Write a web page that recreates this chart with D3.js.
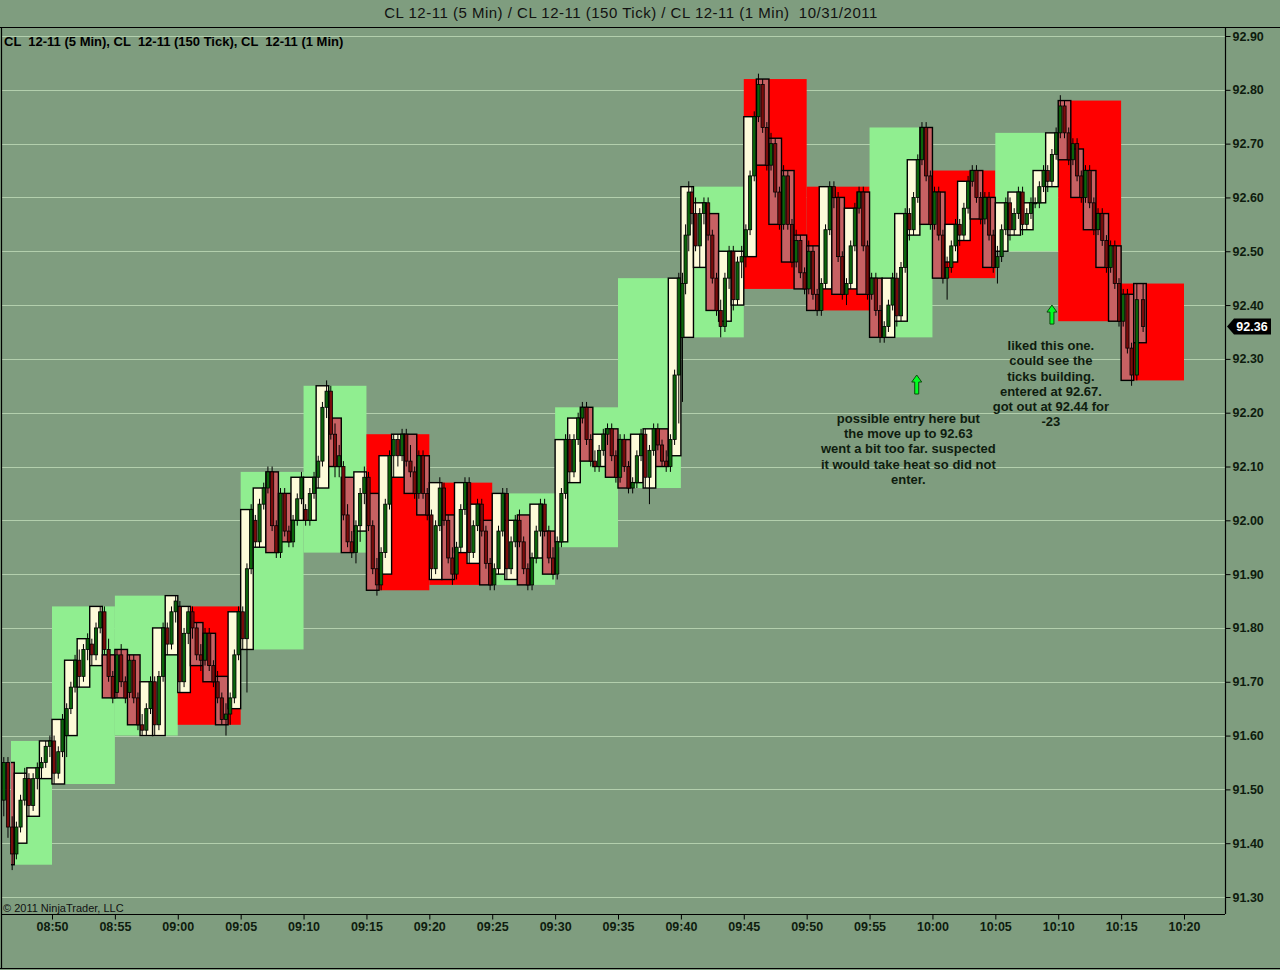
<!DOCTYPE html>
<html>
<head>
<meta charset="utf-8">
<style>
  html, body { margin: 0; padding: 0; background: #7f9d7f; }
  svg { display: block; }
  text { font-family: "Liberation Sans", Arial, sans-serif; }
</style>
<script src="https://cdn.jsdelivr.net/npm/d3@7"></script>
</head>
<body>
<svg id="chart"></svg>
<script>
// ---- DATA ----
const chartTitle = "CL 12-11 (5 Min) / CL 12-11 (150 Tick) / CL 12-11 (1 Min)  10/31/2011";
const panelLabel = "CL  12-11 (5 Min), CL  12-11 (150 Tick), CL  12-11 (1 Min)";
const copyright = "\u00a9 2011 NinjaTrader, LLC";

const priceTicks = [91.30, 91.40, 91.50, 91.60, 91.70, 91.80, 91.90, 92.00, 92.10,
  92.20, 92.30, 92.40, 92.50, 92.60, 92.70, 92.80, 92.90];
const timeTicks = ["08:50", "08:55", "09:00", "09:05", "09:10", "09:15", "09:20",
  "09:25", "09:30", "09:35", "09:40", "09:45", "09:50", "09:55", "10:00", "10:05",
  "10:10", "10:15", "10:20"];

const lastPrice = 92.36;
const firstData = "08:46:45"; // where the loaded 1 min / 5 min data begins

// 5 min bars (start time, open, close)
const fiveMinStart = "08:45";
const fiveMinOpen = [91.36, 91.51, 91.60, 91.84, 91.76, 91.94, 92.16, 92.07, 91.88, 91.95,
  92.06, 92.34, 92.82, 92.62, 92.34, 92.65, 92.50, 92.78, 92.44];
const fiveMinClose = [91.59, 91.84, 91.86, 91.62, 92.09, 92.25, 91.87, 91.88, 92.05, 92.21,
  92.45, 92.62, 92.43, 92.39, 92.73, 92.45, 92.72, 92.37, 92.26];

// 1 min bars from 08:46
const oneMinStart = "08:46";
const oneMinOpen = [
  91.55, 91.40, 91.45, 91.52, 91.51, 91.60, 91.69, 91.73, 91.75, 91.76, 91.75, 91.60, 91.60, 91.75,
  91.68, 91.81, 91.79, 91.71, 91.65, 91.76, 91.95, 92.09, 92.05, 92.00,
  92.00, 92.06, 92.19, 92.08, 91.98, 92.05, 91.90, 92.08, 92.16, 92.12,
  91.89, 92.01, 91.94, 91.92, 92.00, 91.90, 91.89, 92.01, 91.93, 91.98,
  91.96, 92.07, 92.21, 92.10, 92.17, 92.15, 92.07, 92.06, 92.17, 92.12,
  92.34, 92.47, 92.57, 92.37, 92.40, 92.49, 92.82, 92.71, 92.65, 92.53,
  92.51, 92.43, 92.60, 92.43, 92.61, 92.45, 92.34, 92.37, 92.53, 92.73,
  92.61, 92.48, 92.52, 92.65, 92.60, 92.50, 92.53, 92.54, 92.59, 92.62,
  92.78, 92.69, 92.65, 92.57, 92.51, 92.42, 92.44];
const oneMinClose = [
  91.36, 91.53, 91.54, 91.59, 91.63, 91.74, 91.78, 91.84, 91.67, 91.67, 91.62, 91.70, 91.80, 91.86,
  91.84, 91.73, 91.70, 91.62, 91.83, 92.02, 92.06, 91.94, 91.96, 92.08,
  92.08, 92.25, 92.10, 91.94, 92.09, 91.87, 92.12, 92.16, 92.05, 92.01,
  92.07, 91.89, 92.07, 92.03, 91.88, 92.05, 92.00, 91.88, 92.03, 91.90,
  92.15, 92.19, 92.11, 92.16, 92.08, 92.06, 92.16, 92.17, 92.10, 92.45,
  92.62, 92.59, 92.39, 92.50, 92.50, 92.75, 92.66, 92.55, 92.48, 92.43,
  92.39, 92.62, 92.42, 92.58, 92.42, 92.34, 92.45, 92.57, 92.67, 92.55,
  92.45, 92.55, 92.63, 92.56, 92.47, 92.59, 92.61, 92.59, 92.65, 92.72,
  92.67, 92.60, 92.54, 92.47, 92.37, 92.26, 92.33];

// 150 tick bars, grouped by the minute they fall in (from 08:46)
// each bar is [open, high, low, close] in cents above tickBase
const tickBase = 91.00;
const tickBars = [
  [[48,56,45,55],[55,56,41,43],[43,45,35,38]],
  [[38,44,37,43],[43,49,42,48],[48,54,47,52]],
  [[52,53,45,47],[47,53,46,52],[52,55,50,54]],
  [[54,56,52,55],[55,59,54,58],[58,60,56,59]],
  [[59,60,51,53],[53,58,52,57],[57,64,56,63]],
  [[60,66,56,65],[65,70,64,69],[69,75,68,74]],
  [[74,76,69,71],[71,77,70,76],[76,79,74,78]],
  [[77,78,73,75],[75,81,74,80],[80,84,79,83]],
  [[83,84,75,76],[76,78,70,71],[71,72,66,67]],
  [[68,76,67,75],[75,77,69,70],[70,71,66,67]],
  [[68,75,67,74],[74,75,66,67],[67,68,61,62]],
  [[62,64,60,61],[61,66,60,65],[65,71,64,70]],
  [[70,71,60,62],[62,72,61,71],[71,81,70,80]],
  [[80,81,75,77],[77,84,76,83],[83,86,81,85]],
  [[84,85,68,70],[70,80,69,79],[79,84,77,83]],
  [[83,84,78,80],[80,81,74,75],[75,77,72,74]],
  [[74,80,73,79],[79,80,72,73],[73,74,69,70]],
  [[70,72,66,67],[67,68,62,63],[63,66,60,64]],
  [[64,68,62,67],[67,76,66,75],[75,84,74,83]],
  [[83,84,76,78],[78,92,68,91],[91,103,90,102]],
  [[100,101,95,96],[96,104,95,103],[103,107,102,106]],
  [[106,110,105,109],[109,110,98,99],[99,100,93,94]],
  [[94,106,93,105],[105,106,97,98],[98,99,95,96]],
  [[96,101,95,100],[100,105,99,104],[104,109,103,108]],
  [[102,103,99,100],[100,106,99,105],[105,109,104,108]],
  [[108,112,106,111],[111,122,110,121],[121,126,119,124]],
  [[124,125,115,116],[116,118,108,110],[110,114,108,112]],
  [[110,111,100,101],[101,103,95,96],[96,98,93,94]],
  [[94,100,92,99],[99,106,96,105],[105,110,103,108]],
  [[108,109,98,99],[99,100,90,91],[91,93,86,88]],
  [[88,95,87,94],[94,104,93,103],[103,113,102,112]],
  [[112,116,108,115],[115,116,110,112],[112,117,111,116]],
  [[116,117,110,111],[111,114,108,109],[109,110,104,105]],
  [[105,113,104,112],[112,113,104,105],[105,106,100,101]],
  [[101,102,89,91],[91,100,90,99],[99,108,98,106]],
  [[106,107,99,100],[100,101,92,93],[93,95,88,90]],
  [[90,96,89,95],[95,103,94,102],[102,108,101,107]],
  [[107,108,92,94],[94,100,93,99],[99,104,98,103]],
  [[103,104,97,98],[98,99,91,92],[92,93,87,88]],
  [[88,92,87,91],[91,99,90,98],[98,106,97,105]],
  [[105,106,89,91],[91,97,90,96],[96,101,95,100]],
  [[100,102,95,96],[96,97,90,91],[91,92,87,88]],
  [[88,94,87,93],[93,99,92,98],[98,104,97,103]],
  [[103,104,97,98],[98,99,92,93],[93,95,89,90]],
  [[90,97,89,96],[96,106,95,105],[105,116,104,115]],
  [[115,116,107,109],[109,116,108,115],[115,120,114,119]],
  [[119,122,118,121],[121,122,114,115],[115,116,110,111]],
  [[111,113,109,110],[110,114,109,113],[113,117,112,116]],
  [[116,118,114,117],[117,118,111,112],[112,113,107,108]],
  [[108,116,107,115],[115,116,109,110],[110,111,105,106]],
  [[106,108,105,107],[107,113,106,112],[112,117,111,116]],
  [[116,117,106,108],[108,114,103,113],[113,118,112,117]],
  [[117,118,113,114],[114,115,110,111],[111,113,109,110]],
  [[110,116,109,115],[115,128,114,127],[127,146,118,145]],
  [[134,146,122,144],[144,155,142,153],[153,163,150,161],[161,162,155,157]],
  [[157,160,150,151],[151,158,147,157],[157,160,155,159]],
  [[159,160,152,153],[153,154,144,145],[145,146,138,139]],
  [[139,141,134,136],[136,146,135,145],[145,151,143,150]],
  [[150,151,139,141],[141,149,140,148],[148,151,145,149]],
  [[149,155,147,154],[154,165,153,164],[164,176,163,175]],
  [[175,183,174,181],[181,182,172,173],[173,174,165,166]],
  [[166,172,165,170],[170,171,160,161],[161,162,154,155]],
  [[155,166,154,164],[164,165,154,155],[155,156,147,148]],
  [[148,154,147,152],[152,153,145,146],[146,147,142,143]],
  [[143,152,142,150],[150,151,141,142],[142,143,138,139]],
  [[139,145,138,144],[144,155,143,154],[154,163,153,162]],
  [[162,163,158,160],[160,161,148,149],[149,150,141,142]],
  [[142,145,140,144],[144,152,143,151],[151,159,150,158]],
  [[158,162,157,161],[161,162,150,151],[151,152,141,142]],
  [[142,146,141,145],[145,146,138,139],[139,140,133,134]],
  [[134,137,133,136],[136,141,135,140],[140,146,139,145]],
  [[145,146,136,138],[138,148,137,147],[147,158,146,157]],
  [[157,158,152,154],[154,161,153,160],[160,168,159,167]],
  [[167,174,166,173],[173,174,163,164],[164,165,154,155]],
  [[155,162,154,161],[161,162,152,153],[153,154,144,145]],
  [[145,149,141,147],[147,152,146,151],[151,156,150,155]],
  [[155,156,151,153],[153,159,152,158],[158,164,157,163]],
  [[163,166,162,165],[165,166,159,160],[160,161,155,156]],
  [[156,161,155,160],[160,161,152,153],[153,154,146,147]],
  [[147,151,144,149],[149,155,148,154],[154,160,153,159]],
  [[159,160,152,154],[154,158,153,157],[157,162,156,161]],
  [[161,162,153,155],[155,158,154,157],[157,160,156,159]],
  [[159,160,158,159],[159,163,158,162],[162,166,161,165]],
  [[165,166,161,163],[163,169,162,168],[168,173,167,172]],
  [[172,179,171,177],[177,178,171,172],[172,173,166,167]],
  [[167,171,166,170],[170,171,163,164],[164,165,159,160]],
  [[160,166,159,165],[165,166,158,159],[159,160,153,154]],
  [[154,158,153,157],[157,158,151,152],[152,153,146,147]],
  [[147,152,146,151],[151,152,143,144],[144,145,136,137]],
  [[137,143,136,142],[142,143,131,132],[132,133,125,127]],
  [[127,144,126,141],[141,144,135,136]]
];

// annotations drawn on the chart
const arrows = [
  { time: "09:58:45", price: 92.27 },
  { time: "10:09:30", price: 92.40 }
];
const notes = [
  { time: "09:58:05", price: 92.19, lines: ["possible entry here but", "the move up to 92.63",
    "went a bit too far. suspected", "it would take heat so did not", "enter."] },
  { time: "10:09:25", price: 92.325, lines: ["liked this one.", "could see the",
    "ticks building.", "entered at 92.67.", "got out at 92.44 for", "-23"] }
];

// ---- HELPERS ----
function toMin(s) {
  const p = s.split(":").map(Number);
  return p[0] * 60 + p[1] + (p[2] || 0) / 60;
}

// ---- LAYOUT ----
const W = 1280, H = 970;
const plotL = 1, plotT = 27, plotR = 1225, plotB = 914;
const inkColor = "#0e1c0e";

const svg = d3.select("#chart").attr("width", W).attr("height", H);

svg.append("rect").attr("width", W).attr("height", H).attr("fill", "#7f9d7f");

const x = d3.scaleLinear().domain([toMin("08:50"), toMin("10:20")]).range([52, 1184]);
const y = d3.scaleLinear().domain([91.30, 92.90]).range([897, 36]);

// clip so the first partial bars begin where the data begins
svg.append("clipPath").attr("id", "dataClip")
  .append("rect")
  .attr("x", x(toMin(firstData))).attr("y", plotT)
  .attr("width", plotR - x(toMin(firstData))).attr("height", plotB - plotT);
svg.append("clipPath").attr("id", "plotClip")
  .append("rect")
  .attr("x", plotL).attr("y", plotT)
  .attr("width", plotR - plotL).attr("height", plotB - plotT);

// GRID
svg.append("g")
  .selectAll("line")
  .data(priceTicks)
  .enter()
  .append("line")
  .attr("x1", plotL).attr("x2", plotR)
  .attr("y1", d => Math.round(y(d)) + 0.5)
  .attr("y2", d => Math.round(y(d)) + 0.5)
  .attr("stroke", "#b3cfad")
  .attr("stroke-width", 1);

// 5 MIN BOXES
const fiveStart0 = toMin(fiveMinStart);
svg.append("g")
  .attr("clip-path", "url(#dataClip)")
  .selectAll("rect")
  .data(fiveMinOpen)
  .enter()
  .append("rect")
  .attr("x", (d, i) => x(fiveStart0 + 5 * i))
  .attr("width", (d, i) => x(fiveStart0 + 5 * (i + 1)) - x(fiveStart0 + 5 * i))
  .attr("y", (d, i) => y(Math.max(d, fiveMinClose[i])))
  .attr("height", (d, i) => Math.abs(y(d) - y(fiveMinClose[i])))
  .attr("fill", (d, i) => fiveMinClose[i] >= d ? "#90ee90" : "#ff0000");

// 1 MIN BOXES
const oneStart0 = toMin(oneMinStart);
svg.append("g")
  .attr("clip-path", "url(#dataClip)")
  .selectAll("rect")
  .data(oneMinOpen)
  .enter()
  .append("rect")
  .attr("x", (d, i) => x(oneStart0 + i))
  .attr("width", (d, i) => x(oneStart0 + i + 1) - x(oneStart0 + i))
  .attr("y", (d, i) => y(Math.max(d, oneMinClose[i])))
  .attr("height", (d, i) => Math.max(1, Math.abs(y(d) - y(oneMinClose[i]))))
  .attr("fill", (d, i) => oneMinClose[i] >= d ? "#fdfbd9" : "#c76163")
  .attr("stroke", "#000")
  .attr("stroke-width", 1.4);

// 150 TICK CANDLES
const tickList = [];
tickBars.forEach((group, m) => {
  group.forEach((b, k) => {
    tickList.push({
      t: oneStart0 + m + (k + 0.5) / group.length,
      o: tickBase + b[0] / 100,
      h: tickBase + b[1] / 100,
      l: tickBase + b[2] / 100,
      c: tickBase + b[3] / 100
    });
  });
});

const ticksG = svg.append("g").attr("clip-path", "url(#plotClip)");
const candle = ticksG.selectAll("g")
  .data(tickList)
  .enter()
  .append("g");

candle.append("line")
  .attr("x1", d => x(d.t)).attr("x2", d => x(d.t))
  .attr("y1", d => y(d.h)).attr("y2", d => y(d.l))
  .attr("stroke", "#000")
  .attr("stroke-width", 1);

candle.append("rect")
  .attr("x", d => x(d.t) - 1.6)
  .attr("width", 3.2)
  .attr("y", d => y(Math.max(d.o, d.c)))
  .attr("height", d => Math.max(1, Math.abs(y(d.o) - y(d.c))))
  .attr("fill", d => d.c >= d.o ? "#0b650b" : "#7a0c0c")
  .attr("stroke", "#000")
  .attr("stroke-width", 0.8);

// ANNOTATIONS
svg.append("g")
  .selectAll("path")
  .data(arrows)
  .enter()
  .append("path")
  .attr("transform", d => "translate(" + x(toMin(d.time)) + "," + y(d.price) + ")")
  .attr("d", "M0,0 L5,7 L2,7 L2,19 L-2,19 L-2,7 L-5,7 Z")
  .attr("fill", "#00ff22")
  .attr("stroke", "#0b4a0b")
  .attr("stroke-width", 1);

notes.forEach(n => {
  svg.append("text")
    .attr("x", x(toMin(n.time)))
    .attr("y", y(n.price))
    .attr("text-anchor", "middle")
    .attr("font-size", "13px")
    .attr("font-weight", "bold")
    .attr("fill", inkColor)
    .selectAll("tspan")
    .data(n.lines)
    .enter()
    .append("tspan")
    .attr("x", x(toMin(n.time)))
    .attr("dy", (d, i) => i === 0 ? "0.35em" : "15.3px")
    .text(d => d);
});

// FRAME
const frame = svg.append("g").attr("stroke", "#000").attr("stroke-width", 1.2);
frame.append("line").attr("x1", 0).attr("x2", W).attr("y1", plotT + 0.5).attr("y2", plotT + 0.5);
frame.append("line").attr("x1", plotL + 0.5).attr("x2", plotL + 0.5).attr("y1", plotT).attr("y2", H - 1);
frame.append("line").attr("x1", 0).attr("x2", W).attr("y1", H - 1.5).attr("y2", H - 1.5);
frame.append("line").attr("x1", plotR + 0.5).attr("x2", plotR + 0.5).attr("y1", plotT).attr("y2", plotB);
frame.append("line").attr("x1", plotL).attr("x2", plotR).attr("y1", plotB + 0.5).attr("y2", plotB + 0.5);

// PRICE AXIS
const yAxis = d3.axisRight(y)
  .tickValues(priceTicks)
  .tickSize(5)
  .tickPadding(2)
  .tickFormat(d3.format(".2f"));

const yAxisG = svg.append("g")
  .attr("transform", "translate(" + (plotR + 0.5) + ",0)")
  .call(yAxis);
yAxisG.select(".domain").remove();
yAxisG.selectAll("line").attr("stroke", "#000");
yAxisG.selectAll("text")
  .attr("fill", inkColor)
  .style("font-size", "12.5px")
  .style("font-weight", "bold")
  .style("font-family", "'Liberation Sans', Arial, sans-serif");

// TIME AXIS
const xAxis = d3.axisBottom(x)
  .tickValues(timeTicks.map(toMin))
  .tickSize(5)
  .tickPadding(3)
  .tickFormat((d, i) => timeTicks[i]);

const xAxisG = svg.append("g")
  .attr("transform", "translate(0," + (plotB + 0.5) + ")")
  .call(xAxis);
xAxisG.select(".domain").remove();
xAxisG.selectAll("line").attr("stroke", "#000");
xAxisG.selectAll("text")
  .attr("fill", inkColor)
  .style("font-size", "12.5px")
  .style("font-weight", "bold")
  .style("font-family", "'Liberation Sans', Arial, sans-serif");

// LAST PRICE MARKER
const ly = y(lastPrice);
svg.append("path")
  .attr("d", "M" + (plotR + 2) + "," + ly + " L" + (plotR + 9) + "," + (ly - 8) +
    " L" + (plotR + 46) + "," + (ly - 8) + " L" + (plotR + 46) + "," + (ly + 8) +
    " L" + (plotR + 9) + "," + (ly + 8) + " Z")
  .attr("fill", "#000");
svg.append("text")
  .attr("x", plotR + 27)
  .attr("y", ly)
  .attr("dy", "0.36em")
  .attr("text-anchor", "middle")
  .attr("font-size", "12.5px")
  .attr("font-weight", "bold")
  .attr("fill", "#fff")
  .text(lastPrice.toFixed(2));

// TITLES
svg.append("text")
  .attr("x", 631).attr("y", 13).attr("dy", "0.35em")
  .attr("text-anchor", "middle")
  .attr("font-size", "15px")
  .attr("letter-spacing", "0.5px")
  .attr("fill", "#111")
  .style("white-space", "pre")
  .text(chartTitle);

svg.append("text")
  .attr("x", 4).attr("y", 41).attr("dy", "0.35em")
  .attr("font-size", "13px")
  .attr("font-weight", "bold")
  .attr("fill", "#000")
  .style("white-space", "pre")
  .text(panelLabel);

svg.append("text")
  .attr("x", 3).attr("y", 908).attr("dy", "0.35em")
  .attr("font-size", "11px")
  .attr("fill", "#111")
  .text(copyright);
</script>
</body>
</html>
